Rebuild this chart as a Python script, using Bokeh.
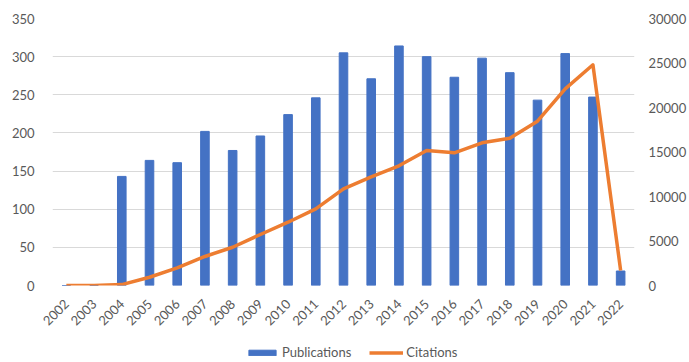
from math import pi

from bokeh.embed import file_html
from bokeh.layouts import column
from bokeh.models import (ColumnDataSource, FactorRange, Range1d, LinearAxis,
                          Legend, LegendItem, FixedTicker)
from bokeh.plotting import figure
from bokeh.resources import INLINE

# Yearly publication counts and citation totals
years = [str(y) for y in range(2002, 2023)]
publications = [0, 0, 143, 164, 161, 202, 177, 196, 224, 246, 305, 271,
                314, 300, 273, 298, 279, 243, 304, 247, 19]
citations = [0, 0, 100, 930, 1990, 3260, 4300, 5730, 7110, 8610, 10860, 12200,
             13450, 15170, 14910, 16030, 16550, 18460, 22100, 24800, 1690]

left_ticks = [0, 50, 100, 150, 200, 250, 300, 350]
right_ticks = [0, 5000, 10000, 15000, 20000, 25000, 30000]

FONT = "Lato"
TEXT = "#595959"
BLUE = "#4472C4"
ORANGE = "#ED7D31"

src = ColumnDataSource(dict(year=years, pubs=publications, cits=citations))

p = figure(width=689, height=338, x_range=FactorRange(*years),
           y_range=Range1d(0, 350), output_backend="svg", toolbar_location=None,
           min_border_left=52, min_border_right=52, min_border_top=18,
           min_border_bottom=53)
p.outline_line_color = None
p.background_fill_color = "white"

p.extra_y_ranges = {"cit": Range1d(0, 30000)}

bar_style = dict(width=0.31, fill_color=BLUE, line_color=BLUE)
line_style = dict(line_color=ORANGE, line_width=3.5, line_join="round")

p.vbar(x="year", top="pubs", source=src, **bar_style)
p.line(x="year", y="cits", source=src, y_range_name="cit", **line_style)

# axes
p.yaxis.ticker = FixedTicker(ticks=left_ticks)
right = LinearAxis(y_range_name="cit", ticker=FixedTicker(ticks=right_ticks))
p.add_layout(right, "right")

for ax in [p.yaxis[0], right, p.xaxis[0]]:
    ax.axis_line_color = None
    ax.major_tick_line_color = None
    ax.minor_tick_line_color = None
    ax.major_label_text_font = FONT
    ax.major_label_text_color = TEXT
    ax.major_label_text_font_size = "13px"

p.yaxis[0].major_label_standoff = 12
right.major_label_standoff = 8
p.xaxis.major_label_orientation = pi / 4
p.xaxis.major_label_text_font_size = "13px"
p.xaxis.major_label_standoff = 10

p.xgrid.grid_line_color = None
p.ygrid.grid_line_color = "#D9D9D9"
p.ygrid.grid_line_width = 1

# legend strip under the chart: the same series, kept out of view, supply
# the swatches
lg = figure(width=689, height=24, output_backend="svg", toolbar_location=None,
            x_axis_location=None, y_axis_location=None, min_border=0,
            x_range=FactorRange(*years), y_range=Range1d(1e6, 1e6 + 1))
lg.outline_line_color = None
lg.xgrid.grid_line_color = None
lg.ygrid.grid_line_color = None
sw_bar = lg.vbar(x="year", top="pubs", source=src, **bar_style)
sw_line = lg.line(x="year", y="pubs", source=src, **line_style)

legend = Legend(items=[LegendItem(label="Publications", renderers=[sw_bar]),
                       LegendItem(label="Citations", renderers=[sw_line])],
                orientation="horizontal", location=(193, 2),
                glyph_width=34, glyph_height=7, label_text_font=FONT,
                label_text_color=TEXT, label_text_font_size="13px",
                label_height=14, label_standoff=3, spacing=18,
                border_line_color=None, background_fill_alpha=0,
                padding=0, margin=0)
lg.add_layout(legend)

page = column(p, lg, spacing=0)
open("out.html", "w").write(file_html(page, INLINE))
